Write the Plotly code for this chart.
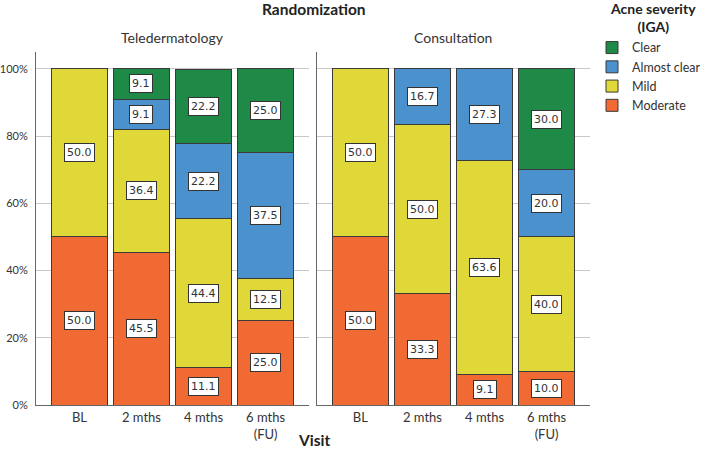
import plotly.graph_objects as go

visits = ["BL", "2 mths", "4 mths", "6 mths<br>(FU)"]
groups = ["Teledermatology", "Consultation"]
severities = ["Moderate", "Mild", "Almost clear", "Clear"]
colors = {"Moderate": "#F16A33", "Mild": "#E0D838", "Almost clear": "#4A91CE", "Clear": "#1F8A47"}

# percentages per group, per severity, per visit
tele_moderate = [50.0, 45.5, 11.1, 25.0]
tele_mild = [50.0, 36.4, 44.4, 12.5]
tele_almost = [0.0, 9.1, 22.2, 37.5]
tele_clear = [0.0, 9.1, 22.2, 25.0]

cons_moderate = [50.0, 33.3, 9.1, 10.0]
cons_mild = [50.0, 50.0, 63.6, 40.0]
cons_almost = [0.0, 16.7, 27.3, 20.0]
cons_clear = [0.0, 0.0, 0.0, 30.0]

y_ticks = [0, 20, 40, 60, 80, 100]
y_tick_text = ["0%", "20%", "40%", "60%", "80%", "100%"]

data = {
    "Teledermatology": [tele_moderate, tele_mild, tele_almost, tele_clear],
    "Consultation": [cons_moderate, cons_mild, cons_almost, cons_clear],
}

font_fam = "Lato, 'Open Sans', sans-serif"
fig = go.Figure()
annotations = []
for gi, g in enumerate(groups):
    xa = "x" if gi == 0 else "x2"
    ya = "y" if gi == 0 else "y2"
    base = [0.0] * len(visits)
    for si, sev in enumerate(severities):
        vals = data[g][si]
        fig.add_trace(go.Bar(
            x=visits, y=vals, name=sev, xaxis=xa, yaxis=ya,
            marker=dict(color=colors[sev], line=dict(color="#3a3a3a", width=1)),
            width=0.9, showlegend=(gi == 0), legendgroup=sev,
            hoverinfo="skip",
        ))
        for vi, v in enumerate(vals):
            if v > 0:
                annotations.append(dict(
                    x=visits[vi], y=base[vi] + v / 2, xref=xa, yref=ya,
                    text=f"{v:.1f}", showarrow=False,
                    font=dict(size=11, color="#333333", family="'DejaVu Sans', sans-serif"),
                    bgcolor="white", bordercolor="#333333", borderwidth=1, borderpad=2,
                ))
            base[vi] += v

def title_ann(text, x, y, size, color):
    return dict(text=text, x=x, y=y,
                xref="paper", yref="paper", xanchor="center", yanchor="middle",
                showarrow=False, align="center",
                font=dict(size=size, color=color, family=font_fam))

annotations += [
    title_ann("<b>Randomization</b>", 0.5018, 1.1218, 15.5, "#222222"),
    title_ann("Teledermatology", 0.2464, 1.0397, 14, "#333333"),
    title_ann("Consultation", 0.7536, 1.0397, 14, "#333333"),
    title_ann("<b>Visit</b>", 0.5018, -0.0992, 15.5, "#222222"),
    title_ann("<b>Acne severity</b><br><b>(IGA)</b>", 1.1137, 1.0977, 14, "#222222"),
]

axis_common = dict(
    showline=True, linecolor="#666666", linewidth=1,
    tickfont=dict(size=13, color="#333333", family=font_fam),
    showgrid=False, fixedrange=True, automargin=False,
)
yaxis_common = dict(
    range=[0, 105], tickvals=y_ticks, ticktext=y_tick_text,
    showline=True, linecolor="#666666", linewidth=1,
    showgrid=True, gridcolor="#c8c8c8", gridwidth=1, zeroline=False,
    tickfont=dict(size=11, color="#333333", family=font_fam),
    automargin=False, fixedrange=True,
)

fig.update_layout(
    width=702, height=469,
    margin=dict(l=36, r=112, t=52, b=64, autoexpand=False),
    paper_bgcolor="white", plot_bgcolor="white",
    barmode="stack",
    xaxis=dict(domain=[0, 0.4928], range=[-0.7, 3.7], anchor="y", **axis_common),
    xaxis2=dict(domain=[0.5072, 1.0], range=[-0.7, 3.7], anchor="y2", **axis_common),
    yaxis=dict(anchor="x", ticks="", ticklabelstandoff=5, **yaxis_common),
    yaxis2=dict(anchor="x2", showticklabels=False, **yaxis_common),
    legend=dict(
        x=(592 - 36) / 554, y=1.054, xanchor="left", yanchor="top",
        traceorder="reversed", tracegroupgap=0,
        font=dict(size=12.5, color="#333333", family=font_fam),
        itemclick=False, itemdoubleclick=False,
    ),
    annotations=annotations,
    font=dict(family=font_fam),
)

fig.write_html("out.html", config={"displayModeBar": False},
               post_script="document.body.style.margin='0';")
